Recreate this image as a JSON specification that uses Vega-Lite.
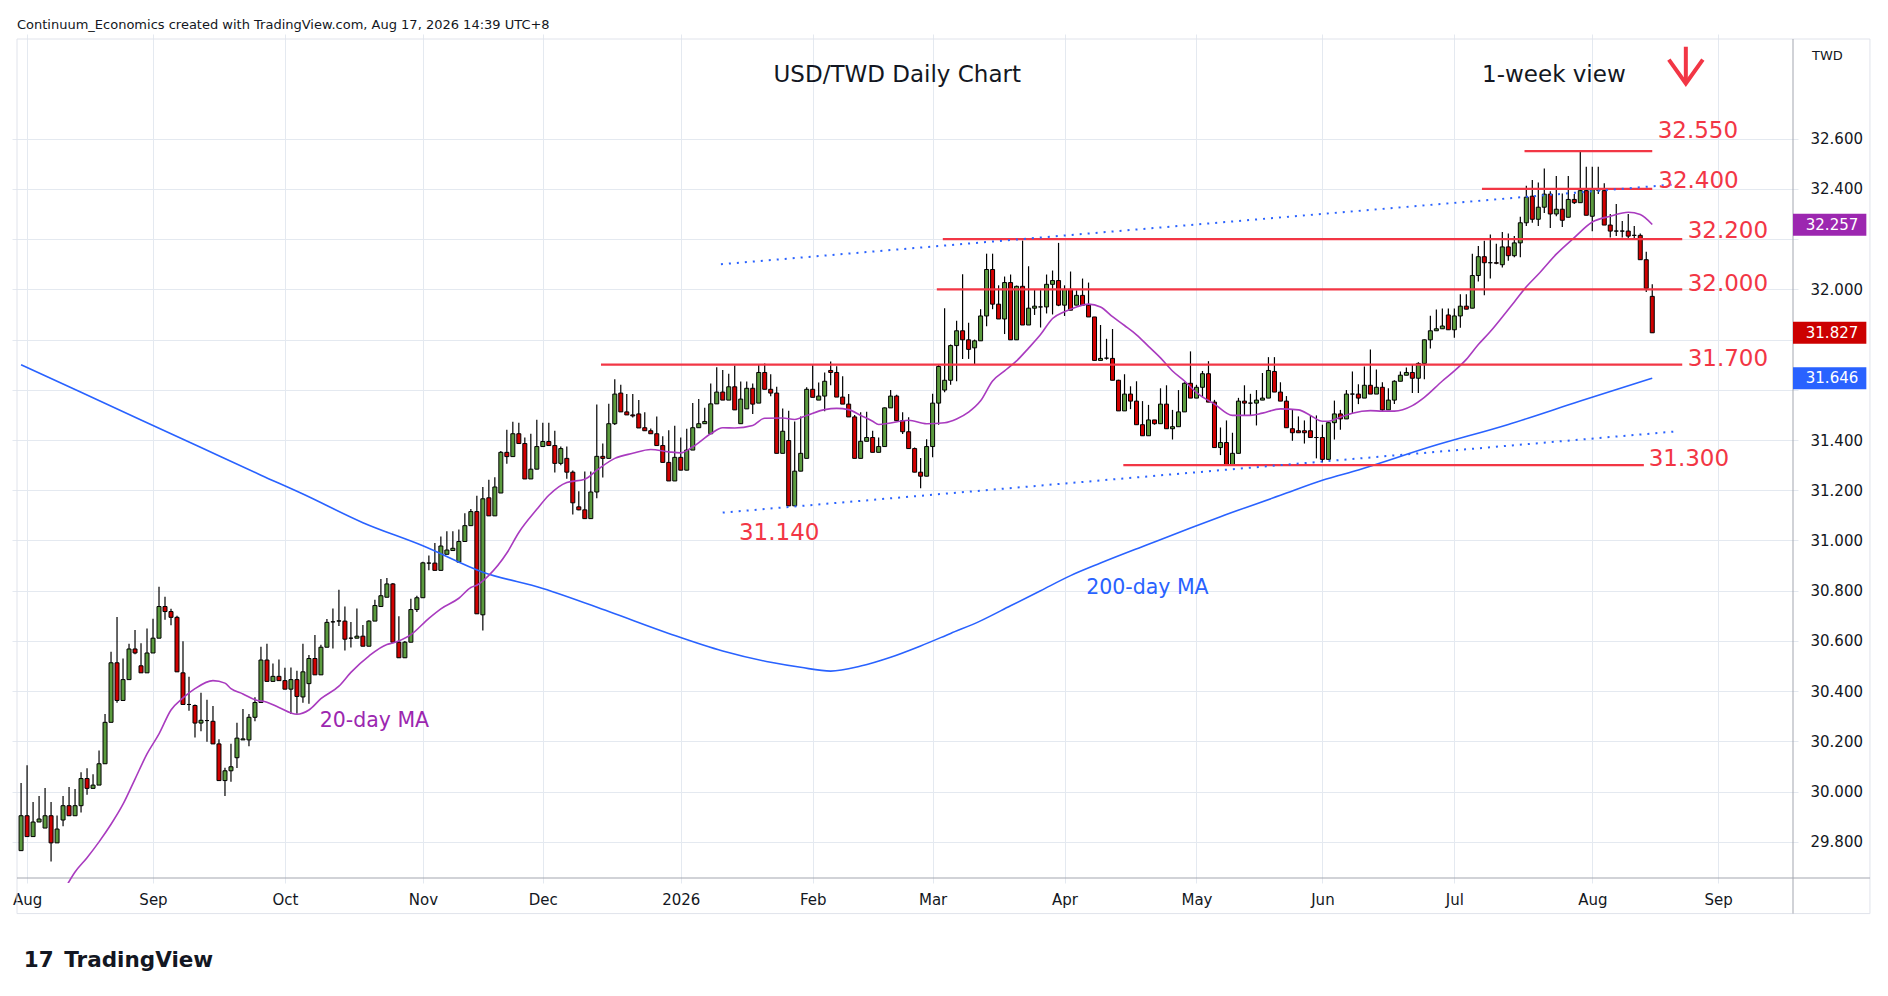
{
"$schema":"https://vega.github.io/schema/vega-lite/v6.json",
"width":1786,"height":849,
"autosize":{"type":"none"},
"padding":{"left":12,"top":34,"right":90,"bottom":113},
"background":"#ffffff",
"config":{"view":{"stroke":null},"font":"DejaVu Sans","text":{"font":"DejaVu Sans"},"axis":{"labelFont":"DejaVu Sans"}},
"datasets":{
"bars":[
{"i":0,"o":29.765,"h":30.034,"l":29.765,"c":29.904},
{"i":1,"o":29.904,"h":30.105,"l":29.821,"c":29.821},
{"i":2,"o":29.821,"h":29.959,"l":29.821,"c":29.879},
{"i":3,"o":29.879,"h":29.983,"l":29.879,"c":29.891},
{"i":4,"o":29.855,"h":30.014,"l":29.855,"c":29.904},
{"i":5,"o":29.904,"h":29.959,"l":29.722,"c":29.796},
{"i":6,"o":29.796,"h":29.905,"l":29.796,"c":29.851},
{"i":7,"o":29.887,"h":29.983,"l":29.862,"c":29.944},
{"i":8,"o":29.944,"h":30.018,"l":29.904,"c":29.904},
{"i":9,"o":29.904,"h":30.010,"l":29.904,"c":29.944},
{"i":10,"o":29.944,"h":30.077,"l":29.917,"c":30.052},
{"i":11,"o":30.052,"h":30.093,"l":29.988,"c":30.013},
{"i":12,"o":30.013,"h":30.069,"l":30.013,"c":30.026},
{"i":13,"o":30.026,"h":30.164,"l":30.026,"c":30.111},
{"i":14,"o":30.111,"h":30.309,"l":30.111,"c":30.276},
{"i":15,"o":30.276,"h":30.557,"l":30.276,"c":30.513},
{"i":16,"o":30.513,"h":30.695,"l":30.354,"c":30.363},
{"i":17,"o":30.363,"h":30.530,"l":30.363,"c":30.446},
{"i":18,"o":30.446,"h":30.589,"l":30.446,"c":30.568},
{"i":19,"o":30.568,"h":30.644,"l":30.547,"c":30.552},
{"i":20,"o":30.501,"h":30.591,"l":30.473,"c":30.473},
{"i":21,"o":30.473,"h":30.650,"l":30.473,"c":30.552},
{"i":22,"o":30.552,"h":30.688,"l":30.552,"c":30.611},
{"i":23,"o":30.611,"h":30.816,"l":30.611,"c":30.737},
{"i":24,"o":30.737,"h":30.776,"l":30.684,"c":30.717},
{"i":25,"o":30.717,"h":30.728,"l":30.662,"c":30.694},
{"i":26,"o":30.694,"h":30.700,"l":30.477,"c":30.477},
{"i":27,"o":30.473,"h":30.599,"l":30.347,"c":30.347},
{"i":28,"o":30.347,"h":30.457,"l":30.322,"c":30.347},
{"i":29,"o":30.343,"h":30.347,"l":30.216,"c":30.273},
{"i":30,"o":30.273,"h":30.394,"l":30.240,"c":30.284},
{"i":31,"o":30.283,"h":30.366,"l":30.199,"c":30.283},
{"i":32,"o":30.280,"h":30.341,"l":30.190,"c":30.190},
{"i":33,"o":30.190,"h":30.209,"l":30.044,"c":30.044},
{"i":34,"o":30.044,"h":30.095,"l":29.983,"c":30.083},
{"i":35,"o":30.083,"h":30.191,"l":30.039,"c":30.099},
{"i":36,"o":30.135,"h":30.274,"l":30.094,"c":30.213},
{"i":37,"o":30.206,"h":30.329,"l":30.206,"c":30.210},
{"i":38,"o":30.206,"h":30.309,"l":30.181,"c":30.296},
{"i":39,"o":30.296,"h":30.376,"l":30.280,"c":30.355},
{"i":40,"o":30.355,"h":30.577,"l":30.355,"c":30.524},
{"i":41,"o":30.524,"h":30.589,"l":30.439,"c":30.439},
{"i":42,"o":30.439,"h":30.510,"l":30.439,"c":30.459},
{"i":43,"o":30.459,"h":30.526,"l":30.442,"c":30.442},
{"i":44,"o":30.442,"h":30.493,"l":30.408,"c":30.408},
{"i":45,"o":30.408,"h":30.494,"l":30.309,"c":30.446},
{"i":46,"o":30.446,"h":30.481,"l":30.310,"c":30.379},
{"i":47,"o":30.377,"h":30.589,"l":30.354,"c":30.477},
{"i":48,"o":30.430,"h":30.544,"l":30.350,"c":30.530},
{"i":49,"o":30.530,"h":30.624,"l":30.465,"c":30.465},
{"i":50,"o":30.465,"h":30.585,"l":30.465,"c":30.575},
{"i":51,"o":30.575,"h":30.687,"l":30.575,"c":30.674},
{"i":52,"o":30.676,"h":30.729,"l":30.570,"c":30.676},
{"i":53,"o":30.679,"h":30.804,"l":30.660,"c":30.680},
{"i":54,"o":30.679,"h":30.737,"l":30.562,"c":30.607},
{"i":55,"o":30.611,"h":30.675,"l":30.574,"c":30.611},
{"i":56,"o":30.611,"h":30.729,"l":30.611,"c":30.619},
{"i":57,"o":30.619,"h":30.663,"l":30.579,"c":30.579},
{"i":58,"o":30.579,"h":30.682,"l":30.579,"c":30.679},
{"i":59,"o":30.679,"h":30.764,"l":30.679,"c":30.741},
{"i":60,"o":30.737,"h":30.847,"l":30.737,"c":30.780},
{"i":61,"o":30.774,"h":30.851,"l":30.774,"c":30.827},
{"i":62,"o":30.827,"h":30.831,"l":30.595,"c":30.595},
{"i":63,"o":30.595,"h":30.698,"l":30.533,"c":30.533},
{"i":64,"o":30.533,"h":30.600,"l":30.533,"c":30.595},
{"i":65,"o":30.595,"h":30.768,"l":30.595,"c":30.725},
{"i":66,"o":30.725,"h":30.780,"l":30.715,"c":30.772},
{"i":67,"o":30.772,"h":30.915,"l":30.772,"c":30.911},
{"i":68,"o":30.910,"h":30.940,"l":30.881,"c":30.910},
{"i":69,"o":30.910,"h":30.990,"l":30.881,"c":30.881},
{"i":70,"o":30.881,"h":31.016,"l":30.881,"c":30.978},
{"i":71,"o":30.945,"h":31.037,"l":30.945,"c":30.962},
{"i":72,"o":30.960,"h":31.037,"l":30.960,"c":30.969},
{"i":73,"o":30.914,"h":31.044,"l":30.914,"c":30.996},
{"i":74,"o":30.996,"h":31.108,"l":30.996,"c":31.059},
{"i":75,"o":31.059,"h":31.125,"l":31.059,"c":31.115},
{"i":76,"o":31.115,"h":31.178,"l":30.708,"c":30.708},
{"i":77,"o":30.704,"h":31.213,"l":30.642,"c":31.166},
{"i":78,"o":31.170,"h":31.242,"l":31.098,"c":31.098},
{"i":79,"o":31.098,"h":31.252,"l":31.098,"c":31.213},
{"i":80,"o":31.189,"h":31.356,"l":31.189,"c":31.351},
{"i":81,"o":31.351,"h":31.441,"l":31.306,"c":31.334},
{"i":82,"o":31.334,"h":31.473,"l":31.334,"c":31.425},
{"i":83,"o":31.425,"h":31.469,"l":31.386,"c":31.386},
{"i":84,"o":31.386,"h":31.410,"l":31.245,"c":31.245},
{"i":85,"o":31.245,"h":31.425,"l":31.245,"c":31.284},
{"i":86,"o":31.284,"h":31.481,"l":31.284,"c":31.374},
{"i":87,"o":31.374,"h":31.469,"l":31.374,"c":31.394},
{"i":88,"o":31.394,"h":31.469,"l":31.378,"c":31.378},
{"i":89,"o":31.378,"h":31.437,"l":31.271,"c":31.307},
{"i":90,"o":31.307,"h":31.374,"l":31.300,"c":31.366},
{"i":91,"o":31.327,"h":31.374,"l":31.246,"c":31.272},
{"i":92,"o":31.272,"h":31.279,"l":31.103,"c":31.150},
{"i":93,"o":31.134,"h":31.196,"l":31.120,"c":31.122},
{"i":94,"o":31.122,"h":31.275,"l":31.087,"c":31.087},
{"i":95,"o":31.087,"h":31.275,"l":31.087,"c":31.193},
{"i":96,"o":31.193,"h":31.541,"l":31.168,"c":31.335},
{"i":97,"o":31.335,"h":31.386,"l":31.251,"c":31.327},
{"i":98,"o":31.327,"h":31.544,"l":31.327,"c":31.465},
{"i":99,"o":31.465,"h":31.642,"l":31.460,"c":31.583},
{"i":100,"o":31.587,"h":31.620,"l":31.512,"c":31.512},
{"i":101,"o":31.512,"h":31.583,"l":31.500,"c":31.500},
{"i":102,"o":31.500,"h":31.583,"l":31.490,"c":31.496},
{"i":103,"o":31.504,"h":31.559,"l":31.448,"c":31.448},
{"i":104,"o":31.449,"h":31.511,"l":31.437,"c":31.437},
{"i":105,"o":31.437,"h":31.446,"l":31.425,"c":31.425},
{"i":106,"o":31.425,"h":31.494,"l":31.378,"c":31.378},
{"i":107,"o":31.378,"h":31.415,"l":31.311,"c":31.311},
{"i":108,"o":31.311,"h":31.439,"l":31.237,"c":31.237},
{"i":109,"o":31.237,"h":31.457,"l":31.237,"c":31.331},
{"i":110,"o":31.331,"h":31.410,"l":31.280,"c":31.280},
{"i":111,"o":31.280,"h":31.445,"l":31.280,"c":31.360},
{"i":112,"o":31.360,"h":31.547,"l":31.360,"c":31.449},
{"i":113,"o":31.449,"h":31.563,"l":31.449,"c":31.465},
{"i":114,"o":31.465,"h":31.529,"l":31.465,"c":31.474},
{"i":115,"o":31.425,"h":31.625,"l":31.425,"c":31.544},
{"i":116,"o":31.544,"h":31.690,"l":31.544,"c":31.591},
{"i":117,"o":31.591,"h":31.679,"l":31.559,"c":31.559},
{"i":118,"o":31.559,"h":31.664,"l":31.559,"c":31.612},
{"i":119,"o":31.612,"h":31.697,"l":31.520,"c":31.520},
{"i":120,"o":31.465,"h":31.633,"l":31.465,"c":31.563},
{"i":121,"o":31.524,"h":31.633,"l":31.524,"c":31.606},
{"i":122,"o":31.606,"h":31.625,"l":31.504,"c":31.543},
{"i":123,"o":31.547,"h":31.701,"l":31.547,"c":31.669},
{"i":124,"o":31.669,"h":31.705,"l":31.602,"c":31.602},
{"i":125,"o":31.602,"h":31.662,"l":31.574,"c":31.587},
{"i":126,"o":31.587,"h":31.612,"l":31.347,"c":31.347},
{"i":127,"o":31.347,"h":31.526,"l":31.347,"c":31.435},
{"i":128,"o":31.398,"h":31.517,"l":31.138,"c":31.138},
{"i":129,"o":31.138,"h":31.474,"l":31.138,"c":31.276},
{"i":130,"o":31.276,"h":31.494,"l":31.276,"c":31.347},
{"i":131,"o":31.327,"h":31.610,"l":31.327,"c":31.602},
{"i":132,"o":31.602,"h":31.698,"l":31.570,"c":31.570},
{"i":133,"o":31.559,"h":31.629,"l":31.559,"c":31.575},
{"i":134,"o":31.575,"h":31.669,"l":31.515,"c":31.634},
{"i":135,"o":31.677,"h":31.713,"l":31.618,"c":31.669},
{"i":136,"o":31.669,"h":31.694,"l":31.571,"c":31.571},
{"i":137,"o":31.571,"h":31.654,"l":31.543,"c":31.543},
{"i":138,"o":31.543,"h":31.583,"l":31.492,"c":31.492},
{"i":139,"o":31.492,"h":31.500,"l":31.327,"c":31.327},
{"i":140,"o":31.327,"h":31.511,"l":31.327,"c":31.395},
{"i":141,"o":31.395,"h":31.513,"l":31.395,"c":31.410},
{"i":142,"o":31.410,"h":31.437,"l":31.351,"c":31.351},
{"i":143,"o":31.351,"h":31.410,"l":31.351,"c":31.374},
{"i":144,"o":31.374,"h":31.530,"l":31.374,"c":31.528},
{"i":145,"o":31.528,"h":31.599,"l":31.528,"c":31.575},
{"i":146,"o":31.575,"h":31.580,"l":31.477,"c":31.477},
{"i":147,"o":31.477,"h":31.511,"l":31.424,"c":31.433},
{"i":148,"o":31.433,"h":31.491,"l":31.366,"c":31.366},
{"i":149,"o":31.366,"h":31.370,"l":31.272,"c":31.272},
{"i":150,"o":31.272,"h":31.328,"l":31.208,"c":31.256},
{"i":151,"o":31.256,"h":31.403,"l":31.256,"c":31.374},
{"i":152,"o":31.374,"h":31.584,"l":31.331,"c":31.547},
{"i":153,"o":31.547,"h":31.701,"l":31.461,"c":31.693},
{"i":154,"o":31.599,"h":31.925,"l":31.590,"c":31.638},
{"i":155,"o":31.638,"h":31.780,"l":31.620,"c":31.776},
{"i":156,"o":31.776,"h":31.875,"l":31.634,"c":31.835},
{"i":157,"o":31.835,"h":32.060,"l":31.723,"c":31.799},
{"i":158,"o":31.799,"h":31.867,"l":31.723,"c":31.761},
{"i":159,"o":31.767,"h":31.800,"l":31.701,"c":31.795},
{"i":160,"o":31.795,"h":31.921,"l":31.795,"c":31.894},
{"i":161,"o":31.894,"h":32.142,"l":31.853,"c":32.079},
{"i":162,"o":32.079,"h":32.142,"l":31.921,"c":31.941},
{"i":163,"o":31.941,"h":32.016,"l":31.882,"c":31.882},
{"i":164,"o":31.882,"h":32.051,"l":31.822,"c":32.027},
{"i":165,"o":32.027,"h":32.059,"l":31.799,"c":31.799},
{"i":166,"o":31.799,"h":32.015,"l":31.799,"c":32.012},
{"i":167,"o":32.012,"h":32.194,"l":31.858,"c":31.858},
{"i":168,"o":31.858,"h":32.092,"l":31.858,"c":31.925},
{"i":169,"o":31.925,"h":31.997,"l":31.898,"c":31.933},
{"i":170,"o":31.930,"h":31.998,"l":31.848,"c":31.930},
{"i":171,"o":31.930,"h":32.059,"l":31.904,"c":32.020},
{"i":172,"o":32.020,"h":32.075,"l":31.900,"c":32.035},
{"i":173,"o":32.035,"h":32.185,"l":31.933,"c":31.937},
{"i":174,"o":31.937,"h":32.016,"l":31.894,"c":32.000},
{"i":175,"o":32.000,"h":32.071,"l":31.917,"c":31.917},
{"i":176,"o":31.937,"h":31.996,"l":31.937,"c":31.976},
{"i":177,"o":31.976,"h":32.043,"l":31.937,"c":31.937},
{"i":178,"o":31.937,"h":32.027,"l":31.890,"c":31.890},
{"i":179,"o":31.890,"h":31.890,"l":31.717,"c":31.717},
{"i":180,"o":31.717,"h":31.858,"l":31.717,"c":31.725},
{"i":181,"o":31.726,"h":31.803,"l":31.720,"c":31.726},
{"i":182,"o":31.725,"h":31.842,"l":31.638,"c":31.638},
{"i":183,"o":31.638,"h":31.640,"l":31.516,"c":31.516},
{"i":184,"o":31.516,"h":31.662,"l":31.516,"c":31.583},
{"i":185,"o":31.583,"h":31.614,"l":31.523,"c":31.555},
{"i":186,"o":31.555,"h":31.634,"l":31.461,"c":31.461},
{"i":187,"o":31.461,"h":31.555,"l":31.417,"c":31.417},
{"i":188,"o":31.417,"h":31.540,"l":31.417,"c":31.480},
{"i":189,"o":31.480,"h":31.480,"l":31.461,"c":31.465},
{"i":190,"o":31.465,"h":31.606,"l":31.465,"c":31.543},
{"i":191,"o":31.543,"h":31.618,"l":31.445,"c":31.445},
{"i":192,"o":31.445,"h":31.520,"l":31.402,"c":31.453},
{"i":193,"o":31.453,"h":31.599,"l":31.453,"c":31.512},
{"i":194,"o":31.512,"h":31.630,"l":31.512,"c":31.626},
{"i":195,"o":31.626,"h":31.753,"l":31.567,"c":31.567},
{"i":196,"o":31.567,"h":31.620,"l":31.567,"c":31.610},
{"i":197,"o":31.610,"h":31.675,"l":31.570,"c":31.664},
{"i":198,"o":31.664,"h":31.714,"l":31.551,"c":31.551},
{"i":199,"o":31.551,"h":31.560,"l":31.370,"c":31.370},
{"i":200,"o":31.370,"h":31.450,"l":31.340,"c":31.390},
{"i":201,"o":31.390,"h":31.478,"l":31.300,"c":31.300},
{"i":202,"o":31.300,"h":31.429,"l":31.300,"c":31.347},
{"i":203,"o":31.347,"h":31.568,"l":31.347,"c":31.555},
{"i":204,"o":31.555,"h":31.618,"l":31.498,"c":31.547},
{"i":205,"o":31.547,"h":31.584,"l":31.498,"c":31.547},
{"i":206,"o":31.547,"h":31.599,"l":31.458,"c":31.559},
{"i":207,"o":31.559,"h":31.667,"l":31.559,"c":31.567},
{"i":208,"o":31.567,"h":31.730,"l":31.567,"c":31.677},
{"i":209,"o":31.673,"h":31.730,"l":31.591,"c":31.591},
{"i":210,"o":31.591,"h":31.630,"l":31.555,"c":31.555},
{"i":211,"o":31.555,"h":31.575,"l":31.449,"c":31.449},
{"i":212,"o":31.445,"h":31.521,"l":31.397,"c":31.429},
{"i":213,"o":31.437,"h":31.494,"l":31.429,"c":31.429},
{"i":214,"o":31.437,"h":31.478,"l":31.386,"c":31.429},
{"i":215,"o":31.437,"h":31.498,"l":31.410,"c":31.410},
{"i":216,"o":31.410,"h":31.498,"l":31.327,"c":31.410},
{"i":217,"o":31.410,"h":31.461,"l":31.311,"c":31.323},
{"i":218,"o":31.323,"h":31.470,"l":31.323,"c":31.469},
{"i":219,"o":31.469,"h":31.557,"l":31.402,"c":31.504},
{"i":220,"o":31.504,"h":31.520,"l":31.441,"c":31.484},
{"i":221,"o":31.484,"h":31.599,"l":31.484,"c":31.583},
{"i":222,"o":31.583,"h":31.673,"l":31.508,"c":31.583},
{"i":223,"o":31.583,"h":31.622,"l":31.543,"c":31.567},
{"i":224,"o":31.567,"h":31.693,"l":31.567,"c":31.618},
{"i":225,"o":31.618,"h":31.760,"l":31.583,"c":31.583},
{"i":226,"o":31.583,"h":31.681,"l":31.583,"c":31.610},
{"i":227,"o":31.610,"h":31.630,"l":31.512,"c":31.520},
{"i":228,"o":31.520,"h":31.606,"l":31.520,"c":31.559},
{"i":229,"o":31.559,"h":31.638,"l":31.543,"c":31.634},
{"i":230,"o":31.634,"h":31.673,"l":31.634,"c":31.658},
{"i":231,"o":31.658,"h":31.689,"l":31.658,"c":31.669},
{"i":232,"o":31.669,"h":31.701,"l":31.587,"c":31.646},
{"i":233,"o":31.646,"h":31.710,"l":31.587,"c":31.705},
{"i":234,"o":31.705,"h":31.800,"l":31.642,"c":31.799},
{"i":235,"o":31.799,"h":31.895,"l":31.764,"c":31.835},
{"i":236,"o":31.835,"h":31.920,"l":31.835,"c":31.843},
{"i":237,"o":31.843,"h":31.924,"l":31.843,"c":31.854},
{"i":238,"o":31.898,"h":31.924,"l":31.839,"c":31.839},
{"i":239,"o":31.839,"h":31.924,"l":31.807,"c":31.894},
{"i":240,"o":31.894,"h":31.980,"l":31.847,"c":31.933},
{"i":241,"o":31.933,"h":31.980,"l":31.921,"c":31.921},
{"i":242,"o":31.925,"h":32.142,"l":31.925,"c":32.055},
{"i":243,"o":32.055,"h":32.173,"l":32.031,"c":32.130},
{"i":244,"o":32.130,"h":32.193,"l":31.976,"c":32.106},
{"i":245,"o":32.106,"h":32.218,"l":32.043,"c":32.106},
{"i":246,"o":32.106,"h":32.182,"l":32.100,"c":32.104},
{"i":247,"o":32.098,"h":32.228,"l":32.087,"c":32.169},
{"i":248,"o":32.169,"h":32.222,"l":32.114,"c":32.134},
{"i":249,"o":32.134,"h":32.212,"l":32.128,"c":32.185},
{"i":250,"o":32.185,"h":32.289,"l":32.128,"c":32.265},
{"i":251,"o":32.265,"h":32.412,"l":32.252,"c":32.367},
{"i":252,"o":32.371,"h":32.435,"l":32.265,"c":32.279},
{"i":253,"o":32.279,"h":32.425,"l":32.252,"c":32.327},
{"i":254,"o":32.327,"h":32.481,"l":32.304,"c":32.379},
{"i":255,"o":32.379,"h":32.391,"l":32.244,"c":32.300},
{"i":256,"o":32.300,"h":32.451,"l":32.291,"c":32.319},
{"i":257,"o":32.319,"h":32.382,"l":32.248,"c":32.275},
{"i":258,"o":32.287,"h":32.451,"l":32.287,"c":32.358},
{"i":259,"o":32.358,"h":32.380,"l":32.340,"c":32.345},
{"i":260,"o":32.345,"h":32.548,"l":32.345,"c":32.393},
{"i":261,"o":32.393,"h":32.488,"l":32.295,"c":32.295},
{"i":262,"o":32.291,"h":32.488,"l":32.231,"c":32.397},
{"i":263,"o":32.397,"h":32.488,"l":32.380,"c":32.395},
{"i":264,"o":32.393,"h":32.422,"l":32.256,"c":32.256},
{"i":265,"o":32.256,"h":32.300,"l":32.206,"c":32.232},
{"i":266,"o":32.232,"h":32.340,"l":32.212,"c":32.232},
{"i":267,"o":32.232,"h":32.272,"l":32.206,"c":32.232},
{"i":268,"o":32.232,"h":32.300,"l":32.197,"c":32.212},
{"i":269,"o":32.215,"h":32.252,"l":32.202,"c":32.215},
{"i":270,"o":32.215,"h":32.222,"l":32.118,"c":32.118},
{"i":271,"o":32.118,"h":32.150,"l":31.989,"c":32.004},
{"i":272,"o":31.972,"h":32.020,"l":31.827,"c":31.827}
],
"ma200":[
{"i":0,"v":31.70},{"i":10,"v":31.59},{"i":20,"v":31.48},{"i":30,"v":31.37},{"i":40,"v":31.26},{"i":47,"v":31.185},{"i":57,"v":31.071},{"i":67,"v":30.979},{"i":77,"v":30.874},{"i":87,"v":30.809},{"i":98,"v":30.717},{"i":108,"v":30.63},{"i":117,"v":30.56},{"i":125,"v":30.515},{"i":130,"v":30.495},{"i":135,"v":30.48},{"i":140,"v":30.50},{"i":145,"v":30.535},{"i":150,"v":30.58},{"i":155,"v":30.63},{"i":160,"v":30.68},{"i":165,"v":30.74},{"i":170,"v":30.80},{"i":175,"v":30.86},{"i":180,"v":30.91},{"i":188,"v":30.985},{"i":195,"v":31.05},{"i":200,"v":31.095},{"i":210,"v":31.18},{"i":217,"v":31.24},{"i":223,"v":31.281},{"i":235,"v":31.373},{"i":248,"v":31.462},{"i":260,"v":31.555},{"i":272,"v":31.646}
],
"ma20":[
{"i":7,"v":29.60},{"i":9,"v":29.68},{"i":11,"v":29.737},{"i":13,"v":29.80},{"i":15,"v":29.87},{"i":17,"v":29.95},{"i":19,"v":30.05},{"i":21,"v":30.15},{"i":23,"v":30.23},{"i":25,"v":30.325},{"i":27,"v":30.373},{"i":29,"v":30.41},{"i":32,"v":30.442},{"i":34,"v":30.432},{"i":35,"v":30.41},{"i":37,"v":30.389},{"i":39,"v":30.366},{"i":41,"v":30.356},{"i":43,"v":30.335},{"i":46,"v":30.308},{"i":48,"v":30.325},{"i":50,"v":30.37},{"i":53,"v":30.42},{"i":55,"v":30.475},{"i":58,"v":30.54},{"i":61,"v":30.586},{"i":62,"v":30.592},{"i":65,"v":30.625},{"i":68,"v":30.69},{"i":70,"v":30.728},{"i":73,"v":30.77},{"i":75,"v":30.813},{"i":76,"v":30.822},{"i":78,"v":30.861},{"i":81,"v":30.95},{"i":83,"v":31.032},{"i":86,"v":31.124},{"i":88,"v":31.18},{"i":91,"v":31.231},{"i":94,"v":31.244},{"i":96,"v":31.28},{"i":99,"v":31.327},{"i":102,"v":31.347},{"i":105,"v":31.362},{"i":108,"v":31.353},{"i":110,"v":31.349},{"i":112,"v":31.373},{"i":115,"v":31.425},{"i":117,"v":31.449},{"i":119,"v":31.448},{"i":122,"v":31.458},{"i":124,"v":31.487},{"i":127,"v":31.488},{"i":129,"v":31.482},{"i":131,"v":31.498},{"i":134,"v":31.521},{"i":136,"v":31.526},{"i":138,"v":31.521},{"i":140,"v":31.498},{"i":142,"v":31.475},{"i":143,"v":31.462},{"i":145,"v":31.468},{"i":148,"v":31.479},{"i":151,"v":31.465},{"i":154,"v":31.469},{"i":156,"v":31.484},{"i":158,"v":31.511},{"i":160,"v":31.556},{"i":162,"v":31.635},{"i":164,"v":31.675},{"i":166,"v":31.715},{"i":168,"v":31.766},{"i":170,"v":31.82},{"i":172,"v":31.884},{"i":174,"v":31.911},{"i":176,"v":31.93},{"i":178,"v":31.941},{"i":180,"v":31.93},{"i":182,"v":31.891},{"i":184,"v":31.856},{"i":186,"v":31.819},{"i":188,"v":31.773},{"i":190,"v":31.727},{"i":192,"v":31.675},{"i":194,"v":31.635},{"i":196,"v":31.589},{"i":199,"v":31.543},{"i":202,"v":31.498},{"i":205,"v":31.498},{"i":207,"v":31.507},{"i":210,"v":31.524},{"i":213,"v":31.52},{"i":215,"v":31.498},{"i":217,"v":31.475},{"i":218,"v":31.475},{"i":220,"v":31.491},{"i":222,"v":31.507},{"i":225,"v":31.517},{"i":227,"v":31.515},{"i":229,"v":31.515},{"i":232,"v":31.537},{"i":234,"v":31.57},{"i":237,"v":31.635},{"i":239,"v":31.675},{"i":241,"v":31.721},{"i":243,"v":31.78},{"i":245,"v":31.832},{"i":247,"v":31.89},{"i":249,"v":31.95},{"i":251,"v":32.01},{"i":253,"v":32.06},{"i":256,"v":32.14},{"i":259,"v":32.206},{"i":262,"v":32.268},{"i":265,"v":32.291},{"i":268,"v":32.307},{"i":270,"v":32.298},{"i":272,"v":32.258}
],
"levels":[
{"x0":250.7,"x1":272,"y":32.55},{"x0":243.6,"x1":272,"y":32.4},{"x0":153.7,"x1":277,"y":32.2},{"x0":152.7,"x1":277,"y":32.0},{"x0":96.7,"x1":277,"y":31.7},{"x0":183.8,"x1":270.6,"y":31.3}
],
"channel":[
{"x0":116.7,"y0":32.100,"x1":275.9,"y1":32.418},{"x0":117,"y0":31.111,"x1":275.9,"y1":31.434}
],
"lvlText":[
{"t":"32.550","x":272.9,"y":32.604},{"t":"32.400","x":273.0,"y":32.404},{"t":"32.200","x":277.9,"y":32.204},{"t":"32.000","x":277.9,"y":31.995},{"t":"31.700","x":277.9,"y":31.695},{"t":"31.300","x":271.4,"y":31.295},{"t":"31.140","x":119.7,"y":31.002}
],
"tags":[
{"v":32.257,"k":"m20"},{"v":31.827,"k":"last"},{"v":31.646,"k":"m200"}
]
},
"layer":[
{"data":{"values":[{"a":1}]},"mark":{"type":"rect","fillOpacity":0,"stroke":"#e0e3eb","strokeWidth":1},
"encoding":{"x":{"datum":-0.68,"type":"quantitative","scale":{"domain":[-0.68,295.47],"nice":false,"zero":false},"title":null,
"axis":{"orient":"bottom","values":[1,22,44,67,87,110,132,152,174,196,217,239,262,283],"labelExpr":"['Aug','Sep','Oct','Nov','Dec','2026','Feb','Mar','Apr','May','Jun','Jul','Aug','Sep'][indexof([1,22,44,67,87,110,132,152,174,196,217,239,262,283], datum.value)]","grid":true,"gridColor":"#e4e9f0","gridWidth":1,"ticks":false,"tickSize":0,"domain":false,"labelFontSize":15,"labelColor":"#131722","labelPadding":9,"labelFlush":false,"labelOverlap":false,"title":null}},
"x2":{"datum":308.3},
"y":{"datum":29.5144,"type":"quantitative","scale":{"domain":[29.6561,32.9968],"nice":false,"zero":false},"title":null,
"axis":{"orient":"right","values":[29.8,30.0,30.2,30.4,30.6,30.8,31.0,31.2,31.4,31.6,31.8,32.0,32.2,32.4,32.6],"labelExpr":"(abs(datum.value-31.8)<0.01 || abs(datum.value-32.2)<0.01 || abs(datum.value-31.6)<0.01) ? '' : format(datum.value, '.3f')","grid":true,"gridColor":"#e4e9f0","gridWidth":1,"ticks":false,"tickSize":0,"domain":false,"labelFontSize":15,"labelColor":"#131722","labelPadding":12,"labelAlign":"left","labelBaseline":"middle","labelOverlap":false,"title":null}},
"y2":{"datum":32.9968}}},
{"data":{"values":[{"a":1}]},"mark":{"type":"rule","color":"#a3a6af","strokeWidth":1},
"encoding":{"x":{"datum":295.47,"type":"quantitative","scale":{"domain":[-0.68,295.47],"nice":false,"zero":false},"title":null},"y":{"datum":29.5144,"type":"quantitative","scale":{"domain":[29.6561,32.9968],"nice":false,"zero":false},"title":null},"y2":{"datum":32.9968}}},
{"data":{"values":[{"a":1}]},"mark":{"type":"rule","color":"#a3a6af","strokeWidth":1},
"encoding":{"x":{"datum":-0.68,"type":"quantitative","scale":{"domain":[-0.68,295.47],"nice":false,"zero":false},"title":null},"x2":{"datum":308.3},"y":{"datum":29.6561,"type":"quantitative","scale":{"domain":[29.6561,32.9968],"nice":false,"zero":false},"title":null}}},
{"data":{"name":"bars"},"mark":{"type":"rule","color":"#000000","strokeWidth":1.2},
"encoding":{"x":{"field":"i","type":"quantitative","scale":{"domain":[-0.68,295.47],"nice":false,"zero":false},"title":null},"y":{"field":"l","type":"quantitative","scale":{"domain":[29.6561,32.9968],"nice":false,"zero":false},"title":null},"y2":{"field":"h"}}},
{"data":{"name":"bars"},"mark":{"type":"bar","size":4,"stroke":"#000000","strokeWidth":1},
"encoding":{"x":{"field":"i","type":"quantitative","scale":{"domain":[-0.68,295.47],"nice":false,"zero":false},"title":null},"y":{"field":"o","type":"quantitative","scale":{"domain":[29.6561,32.9968],"nice":false,"zero":false},"title":null},"y2":{"field":"c"},
"color":{"condition":{"test":"datum.c >= datum.o","value":"#5b9b3e"},"value":"#d10000"}}},
{"data":{"name":"ma200"},"mark":{"type":"line","color":"#2962ff","strokeWidth":1.6,"interpolate":"monotone","clip":true},
"encoding":{"x":{"field":"i","type":"quantitative","scale":{"domain":[-0.68,295.47],"nice":false,"zero":false},"title":null},"y":{"field":"v","type":"quantitative","scale":{"domain":[29.6561,32.9968],"nice":false,"zero":false},"title":null}}},
{"data":{"name":"ma20"},"mark":{"type":"line","color":"#a93bbf","strokeWidth":1.6,"interpolate":"monotone","clip":true},
"encoding":{"x":{"field":"i","type":"quantitative","scale":{"domain":[-0.68,295.47],"nice":false,"zero":false},"title":null},"y":{"field":"v","type":"quantitative","scale":{"domain":[29.6561,32.9968],"nice":false,"zero":false},"title":null}}},
{"data":{"name":"levels"},"mark":{"type":"rule","color":"#f23645","strokeWidth":2.2},
"encoding":{"x":{"field":"x0","type":"quantitative","scale":{"domain":[-0.68,295.47],"nice":false,"zero":false},"title":null},"x2":{"field":"x1"},"y":{"field":"y","type":"quantitative","scale":{"domain":[29.6561,32.9968],"nice":false,"zero":false},"title":null}}},
{"data":{"name":"channel"},"mark":{"type":"rule","color":"#2962ff","strokeWidth":2,"strokeDash":[2,6]},
"encoding":{"x":{"field":"x0","type":"quantitative","scale":{"domain":[-0.68,295.47],"nice":false,"zero":false},"title":null},"x2":{"field":"x1"},"y":{"field":"y0","type":"quantitative","scale":{"domain":[29.6561,32.9968],"nice":false,"zero":false},"title":null},"y2":{"field":"y1"}}},
{"data":{"name":"lvlText"},"mark":{"type":"text","color":"#f23645","fontSize":23,"align":"left","baseline":"alphabetic","font":"DejaVu Sans"},
"encoding":{"x":{"field":"x","type":"quantitative","scale":{"domain":[-0.68,295.47],"nice":false,"zero":false},"title":null},"y":{"field":"y","type":"quantitative","scale":{"domain":[29.6561,32.9968],"nice":false,"zero":false},"title":null},"text":{"field":"t"}}},
{"data":{"values":[{"t":"200-day MA","x":177.6,"y":30.785}]},"mark":{"type":"text","color":"#2962ff","fontSize":20.5,"align":"left","baseline":"alphabetic","font":"DejaVu Sans"},
"encoding":{"x":{"field":"x","type":"quantitative","scale":{"domain":[-0.68,295.47],"nice":false,"zero":false},"title":null},"y":{"field":"y","type":"quantitative","scale":{"domain":[29.6561,32.9968],"nice":false,"zero":false},"title":null},"text":{"field":"t"}}},
{"data":{"values":[{"t":"20-day MA","x":49.8,"y":30.258}]},"mark":{"type":"text","color":"#9c27b0","fontSize":20.5,"align":"left","baseline":"alphabetic","font":"DejaVu Sans"},
"encoding":{"x":{"field":"x","type":"quantitative","scale":{"domain":[-0.68,295.47],"nice":false,"zero":false},"title":null},"y":{"field":"y","type":"quantitative","scale":{"domain":[29.6561,32.9968],"nice":false,"zero":false},"title":null},"text":{"field":"t"}}},
{"data":{"values":[{"t":"USD/TWD Daily Chart","x":146.1,"y":32.824},{"t":"1-week view","x":255.6,"y":32.824}]},"mark":{"type":"text","color":"#131722","fontSize":23,"align":"center","baseline":"alphabetic","font":"DejaVu Sans"},
"encoding":{"x":{"field":"x","type":"quantitative","scale":{"domain":[-0.68,295.47],"nice":false,"zero":false},"title":null},"y":{"field":"y","type":"quantitative","scale":{"domain":[29.6561,32.9968],"nice":false,"zero":false},"title":null},"text":{"field":"t"}}},
{"data":{"values":[{"t":"Continuum_Economics created with TradingView.com, Aug 17, 2026 14:39 UTC+8","x":-0.68,"y":33.036}]},"mark":{"type":"text","color":"#131722","fontSize":13,"align":"left","baseline":"alphabetic","font":"DejaVu Sans"},
"encoding":{"x":{"field":"x","type":"quantitative","scale":{"domain":[-0.68,295.47],"nice":false,"zero":false},"title":null},"y":{"field":"y","type":"quantitative","scale":{"domain":[29.6561,32.9968],"nice":false,"zero":false},"title":null},"text":{"field":"t"}}},
{"data":{"values":[{"x":277.6,"y":32.966,"y2":32.824}]},"mark":{"type":"rule","color":"#f23645","strokeWidth":4},
"encoding":{"x":{"field":"x","type":"quantitative","scale":{"domain":[-0.68,295.47],"nice":false,"zero":false},"title":null},"y":{"field":"y","type":"quantitative","scale":{"domain":[29.6561,32.9968],"nice":false,"zero":false},"title":null},"y2":{"field":"y2"}}},
{"data":{"values":[{"x":277.6,"y":32.867}]},"mark":{"type":"point","shape":"M-1,-0.7L0,0.7L1,-0.7","size":1156,"filled":false,"stroke":"#f23645","strokeWidth":4,"opacity":1},
"encoding":{"x":{"field":"x","type":"quantitative","scale":{"domain":[-0.68,295.47],"nice":false,"zero":false},"title":null},"y":{"field":"y","type":"quantitative","scale":{"domain":[29.6561,32.9968],"nice":false,"zero":false},"title":null}}},
{"data":{"name":"tags"},"mark":{"type":"bar","size":22},
"encoding":{"x":{"datum":295.47,"type":"quantitative","scale":{"domain":[-0.68,295.47],"nice":false,"zero":false},"title":null},"x2":{"datum":307.7},"y":{"field":"v","type":"quantitative","scale":{"domain":[29.6561,32.9968],"nice":false,"zero":false},"title":null},
"color":{"field":"k","type":"nominal","scale":{"domain":["m20","last","m200"],"range":["#9c27b0","#cc0000","#2962ff"]},"legend":null}}},
{"data":{"name":"tags"},"mark":{"type":"text","color":"#ffffff","fontSize":15,"align":"left","baseline":"middle","font":"DejaVu Sans"},
"encoding":{"x":{"datum":297.6,"type":"quantitative","scale":{"domain":[-0.68,295.47],"nice":false,"zero":false},"title":null},"y":{"field":"v","type":"quantitative","scale":{"domain":[29.6561,32.9968],"nice":false,"zero":false},"title":null},"text":{"field":"v","format":".3f"}}},
{"data":{"values":[{"t":"TWD","x":301.2,"y":32.93}]},"mark":{"type":"text","color":"#131722","fontSize":13,"align":"center","baseline":"middle","font":"DejaVu Sans"},
"encoding":{"x":{"field":"x","type":"quantitative","scale":{"domain":[-0.68,295.47],"nice":false,"zero":false},"title":null},"y":{"field":"y","type":"quantitative","scale":{"domain":[29.6561,32.9968],"nice":false,"zero":false},"title":null},"text":{"field":"t"}}},
{"data":{"values":[{"t":"TradingView","x":7.2,"y":29.30},{"t":"17","x":0.45,"y":29.30}]},"mark":{"type":"text","color":"#131722","fontSize":21.5,"fontWeight":"bold","align":"left","baseline":"alphabetic","font":"DejaVu Sans"},
"encoding":{"x":{"field":"x","type":"quantitative","scale":{"domain":[-0.68,295.47],"nice":false,"zero":false},"title":null},"y":{"field":"y","type":"quantitative","scale":{"domain":[29.6561,32.9968],"nice":false,"zero":false},"title":null},"text":{"field":"t"}}}
]
}
